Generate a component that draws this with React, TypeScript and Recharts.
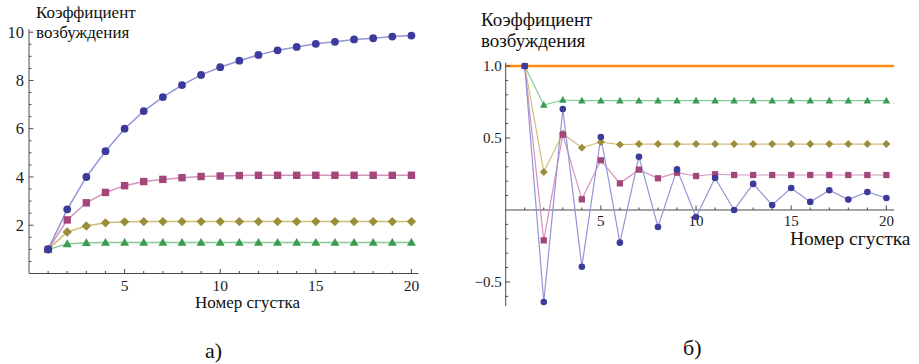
import React from 'react';
import { LineChart, Line, XAxis, YAxis, ReferenceLine, ReferenceDot } from 'recharts';

// ---------- data ----------
const clusterNumbers = [1, 2, 3, 4, 5, 6, 7, 8, 9, 10, 11, 12, 13, 14, 15, 16, 17, 18, 19, 20];

// chart а)
const leftSeries1 = [1, 2.66, 4.0, 5.07, 6.0, 6.73, 7.31, 7.81, 8.23, 8.55, 8.82, 9.06, 9.25, 9.39, 9.52, 9.6, 9.7, 9.75, 9.82, 9.86];
const leftSeries2 = [1, 2.22, 2.93, 3.36, 3.64, 3.81, 3.9, 3.97, 4.02, 4.04, 4.06, 4.07, 4.07, 4.07, 4.07, 4.07, 4.07, 4.07, 4.07, 4.07];
const leftSeries3 = [1, 1.72, 1.97, 2.1, 2.14, 2.15, 2.15, 2.15, 2.15, 2.15, 2.15, 2.15, 2.15, 2.15, 2.15, 2.15, 2.15, 2.15, 2.15, 2.15];
const leftSeries4 = [1, 1.22, 1.27, 1.28, 1.28, 1.28, 1.28, 1.28, 1.28, 1.28, 1.28, 1.28, 1.28, 1.28, 1.28, 1.28, 1.28, 1.28, 1.28, 1.28];

// chart б)
const rightSeries1 = [1, -0.639, 0.701, -0.394, 0.507, -0.227, 0.37, -0.118, 0.282, -0.049, 0.222, 0.0, 0.181, 0.035, 0.153, 0.056, 0.137, 0.072, 0.125, 0.083];
const rightSeries2 = [1, -0.211, 0.523, 0.074, 0.345, 0.185, 0.28, 0.22, 0.259, 0.236, 0.248, 0.243, 0.243, 0.243, 0.243, 0.243, 0.243, 0.243, 0.243, 0.243];
const rightSeries3 = [1, 0.264, 0.53, 0.433, 0.472, 0.454, 0.458, 0.458, 0.458, 0.458, 0.458, 0.458, 0.458, 0.458, 0.458, 0.458, 0.458, 0.458, 0.458, 0.458];
const rightSeries4 = [1, 0.729, 0.764, 0.759, 0.759, 0.759, 0.759, 0.759, 0.759, 0.759, 0.759, 0.759, 0.759, 0.759, 0.759, 0.759, 0.759, 0.759, 0.759, 0.759];
const rightReferenceLevel = 1.0;

const seriesNames = ['1', '2', '3', '4'];

// ticks
const xTicks = [1, 2, 3, 4, 5, 6, 7, 8, 9, 10, 11, 12, 13, 14, 15, 16, 17, 18, 19, 20];
const xMajorTicks = [5, 10, 15, 20];
const xTickLabels = ['5', '10', '15', '20'];

const leftYTicks = [0.5, 1, 1.5, 2, 2.5, 3, 3.5, 4, 4.5, 5, 5.5, 6, 6.5, 7, 7.5, 8, 8.5, 9, 9.5, 10];
const leftYMajorTicks = [2, 4, 6, 8, 10];
const leftYTickLabels = ['2', '4', '6', '8', '10'];

const rightYTicks = [-0.6, -0.5, -0.4, -0.3, -0.2, -0.1, 0.1, 0.2, 0.3, 0.4, 0.5, 0.6, 0.7, 0.8, 0.9, 1.0];
const rightYMajorTicks = [-0.5, 0.5, 1.0];
const rightYTickLabels = ['\u22120.5', '0.5', '1.0'];

const yTitleLines = ['Коэффициент', 'возбуждения'];
const xTitle = 'Номер сгустка';
const captions = ['а)', 'б)'];

// ---------- styles ----------
const FONT = 'Liberation Serif';
const AXIS = '#4a4a4a';
const markerColors = ['#3b3b9c', '#a2467c', '#9b8d3b', '#3b9b52'];
const lineColors = ['#9494d6', '#d494ba', '#cdbf78', '#88cb98'];
const shapes = ['circle', 'square', 'diamond', 'triangle'];

const leftData = clusterNumbers.map((n, i) => ({
  n,
  s1: leftSeries1[i],
  s2: leftSeries2[i],
  s3: leftSeries3[i],
  s4: leftSeries4[i],
}));
const rightData = clusterNumbers.map((n, i) => ({
  n,
  s1: rightSeries1[i],
  s2: rightSeries2[i],
  s3: rightSeries3[i],
  s4: rightSeries4[i],
}));

const txt = (size: number) => ({ fontFamily: FONT, fontSize: size });

function Marker({ shape, cx, cy, s, fill }: any) {
  if (shape === 'circle') return <circle cx={cx} cy={cy} r={s} fill={fill} />;
  if (shape === 'square') return <rect x={cx - s * 0.95} y={cy - s * 0.95} width={s * 1.9} height={s * 1.9} fill={fill} />;
  if (shape === 'diamond') {
    const d = s * 1.2;
    return <polygon points={`${cx},${cy - d} ${cx + d},${cy} ${cx},${cy + d} ${cx - d},${cy}`} fill={fill} />;
  }
  const h = s * 1.1;
  return <polygon points={`${cx},${cy - h * 1.1} ${cx + h * 1.05},${cy + h * 0.75} ${cx - h * 1.05},${cy + h * 0.75}`} fill={fill} />;
}

const makeDot = (idx: number, size: number, labelDx: number, labelSize: number) => (props: any) => {
  const { cx, cy, index } = props;
  if (cx == null || cy == null) return <g key={`d${idx}-${index}`} />;
  const last = index === clusterNumbers.length - 1;
  return (
    <g key={`d${idx}-${index}`}>
      <Marker shape={shapes[idx]} cx={cx} cy={cy} s={size} fill={markerColors[idx]} />
      {last && (
        <text x={cx + labelDx} y={cy} dy="0.35em" style={txt(labelSize)} fill="#222">
          {seriesNames[idx]}
        </text>
      )}
    </g>
  );
};

const makeYTick = (majors: number[], labels: string[], fontSize: number, gap: number) => (props: any) => {
  const { x, y, payload } = props;
  const k = majors.indexOf(payload.value);
  const major = k >= 0;
  return (
    <g>
      <line x1={x} x2={x + (major ? 4.5 : 2.5)} y1={y} y2={y} stroke={AXIS} strokeWidth={1} />
      {major && (
        <text x={x - gap} y={y} dy="0.34em" textAnchor="end" style={txt(fontSize)} fill="#222">
          {labels[k]}
        </text>
      )}
    </g>
  );
};

const makeXTick = (fontSize: number, baselineDy: number) => (props: any) => {
  const { x, y, payload } = props;
  const k = xMajorTicks.indexOf(payload.value);
  const major = k >= 0;
  return (
    <g>
      <line x1={x} x2={x} y1={y} y2={y - (major ? 4.5 : 2.5)} stroke={AXIS} strokeWidth={1} />
      {major && (
        <text x={x} y={y + baselineDy} textAnchor="middle" style={txt(fontSize)} fill="#222">
          {xTickLabels[k]}
        </text>
      )}
    </g>
  );
};

const xTickShape = (v: number, fontSize: number, baselineDy: number) => (props: any) => {
  const { cx, cy } = props;
  const k = xMajorTicks.indexOf(v);
  const major = k >= 0;
  return (
    <g>
      <line x1={cx} x2={cx} y1={cy} y2={cy - (major ? 4.5 : 2.5)} stroke={AXIS} strokeWidth={1} />
      {major && (
        <text x={cx} y={cy + baselineDy} textAnchor="middle" style={txt(fontSize)} fill="#222">
          {xTickLabels[k]}
        </text>
      )}
    </g>
  );
};

const seriesKeys = ['s1', 's2', 's3', 's4'];

function LeftChart() {
  return (
    <LineChart width={440} height={320} data={leftData} margin={{ top: 29.3, right: 21.5, bottom: 45.5, left: 28 }}>
      <XAxis
        type="number"
        dataKey="n"
        domain={[0, 20.37]}
        allowDataOverflow
        ticks={xTicks}
        interval={0}
        height={1}
        tickSize={0}
        tickMargin={0}
        tickLine={false}
        axisLine={{ stroke: AXIS, strokeWidth: 1 }}
        tick={makeXTick(15.5, 17)}
      />
      <YAxis
        type="number"
        domain={[0, 10.12]}
        allowDataOverflow
        ticks={leftYTicks}
        interval={0}
        width={1}
        tickSize={0}
        tickMargin={0}
        tickLine={false}
        axisLine={{ stroke: AXIS, strokeWidth: 1 }}
        tick={makeYTick(leftYMajorTicks, leftYTickLabels, 16.5, 5)}
      />
      {[3, 2, 1, 0].map((i) => (
        <Line
          key={seriesKeys[i]}
          type="linear"
          dataKey={seriesKeys[i]}
          stroke={lineColors[i]}
          strokeWidth={1.5}
          dot={makeDot(i, 3.9, 9, 12)}
          activeDot={false}
          isAnimationActive={false}
        />
      ))}
    </LineChart>
  );
}

function RightChart() {
  return (
    <LineChart width={459} height={340} data={rightData} margin={{ top: 62.7, right: 25, bottom: 34, left: 44.7 }}>
      <XAxis type="number" dataKey="n" domain={[0, 20.4]} allowDataOverflow hide />
      <YAxis
        type="number"
        domain={[-0.667, 1.023]}
        allowDataOverflow
        ticks={rightYTicks}
        interval={0}
        width={1}
        tickSize={0}
        tickMargin={0}
        tickLine={false}
        axisLine={{ stroke: AXIS, strokeWidth: 1 }}
        tick={makeYTick(rightYMajorTicks, rightYTickLabels, 15, 4)}
      />
      <ReferenceLine y={0} stroke={AXIS} strokeWidth={1} />
      {xTicks.map((v) => (
        <ReferenceDot key={`xt${v}`} x={v} y={0} r={0} ifOverflow="visible" shape={xTickShape(v, 15, 15.7)} />
      ))}
      <ReferenceLine y={rightReferenceLevel} stroke="#ff8a14" strokeWidth={2.6} />
      {[3, 2, 1, 0].map((i) => (
        <Line
          key={seriesKeys[i]}
          type="linear"
          dataKey={seriesKeys[i]}
          stroke={lineColors[i]}
          strokeWidth={1.2}
          dot={makeDot(i, 3.3, 7, 14)}
          activeDot={false}
          isAnimationActive={false}
        />
      ))}
    </LineChart>
  );
}

export default function App() {
  return (
    <div style={{ position: 'absolute', left: 0, top: 0, width: 919, height: 364, background: '#fff', overflow: 'hidden' }}>
      <div style={{ position: 'absolute', left: 0, top: 0 }}>
        <LeftChart />
      </div>
      <div style={{ position: 'absolute', left: 460, top: 0 }}>
        <RightChart />
      </div>
      <svg width={919} height={364} style={{ position: 'absolute', left: 0, top: 0, pointerEvents: 'none' }}>
        <g fill="#111">
          <text x={36} y={18.3} style={txt(17)}>{yTitleLines[0]}</text>
          <text x={36} y={37.5} style={txt(17)}>{yTitleLines[1]}</text>
          <text x={195} y={307.5} style={txt(17)}>{xTitle}</text>
          <text x={481} y={26} style={txt(19)}>{yTitleLines[0]}</text>
          <text x={481} y={46.5} style={txt(19)}>{yTitleLines[1]}</text>
          <text x={790} y={244.5} style={txt(19.5)}>{xTitle}</text>
          <text x={205} y={358} style={txt(22)}>{captions[0]}</text>
          <text x={683} y={355} style={txt(22)}>{captions[1]}</text>
        </g>
      </svg>
    </div>
  );
}
